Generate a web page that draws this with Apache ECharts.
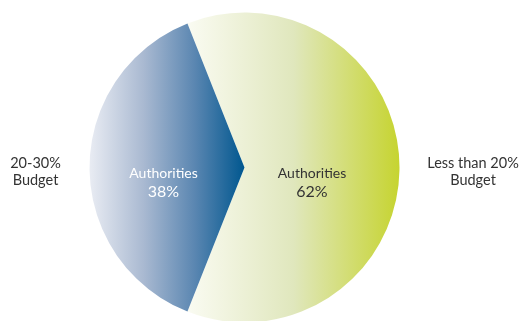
<!DOCTYPE html>
<html>
<head>
<meta charset="utf-8">
<script src="https://cdn.jsdelivr.net/npm/echarts@6/dist/echarts.min.js"></script>
<style>
  html, body { margin: 0; padding: 0; background: #ffffff; }
  #chart { width: 521px; height: 321px; }
</style>
</head>
<body>
<div id="chart"></div>
<script>
// Share of authorities by budget band
const bands = ['Less than 20%\nBudget', '20-30%\nBudget'];
const shares = [62, 38];
const sliceLabel = 'Authorities';

const gradients = [
  [[0, '#fafbf2'], [0.5, '#e0e7bd'], [1, '#c6d430']],
  [[0, '#e9ecf3'], [0.35, '#a9b9d1'], [0.68, '#5a86b1'], [1, '#00578f']]
];
const labelColors = ['#333333', '#ffffff'];
const labelOffsets = [[-13, 15], [-0.5, 15]];

const chart = echarts.init(document.getElementById('chart'), null, { renderer: 'canvas' });

const data = shares.map((v, i) => ({
  name: bands[i],
  value: v,
  itemStyle: {
    color: new echarts.graphic.LinearGradient(0, 0, 1, 0,
      gradients[i].map(s => ({ offset: s[0], color: s[1] })))
  },
  label: {
    color: labelColors[i],
    offset: labelOffsets[i],
    rich: {
      t: { color: labelColors[i], fontFamily: 'Lato', fontSize: 14, lineHeight: 19 },
      p: { color: labelColors[i], fontFamily: 'Lato', fontSize: 16, lineHeight: 19 }
    }
  }
}));

chart.setOption({
  animation: false,
  backgroundColor: '#ffffff',
  series: [{
    type: 'pie',
    center: [244.5, 167.5],
    radius: [0, 155],
    startAngle: 111.6,
    clockwise: true,
    silent: true,
    itemStyle: { borderWidth: 0 },
    label: {
      show: true,
      position: 'inside',
      fontFamily: 'Lato',
      formatter: p => '{t|' + sliceLabel + '}\n{p|' + p.value + '%}'
    },
    labelLine: { show: false },
    data: data
  }],
  graphic: [
    {
      type: 'text', x: 35.5, y: 172,
      style: { text: bands[1], fill: '#333333', font: '14.5px Lato', align: 'center', verticalAlign: 'middle', lineHeight: 17 }
    },
    {
      type: 'text', x: 473, y: 172,
      style: { text: bands[0], fill: '#333333', font: '14.5px Lato', align: 'center', verticalAlign: 'middle', lineHeight: 17 }
    }
  ]
});
</script>
</body>
</html>
